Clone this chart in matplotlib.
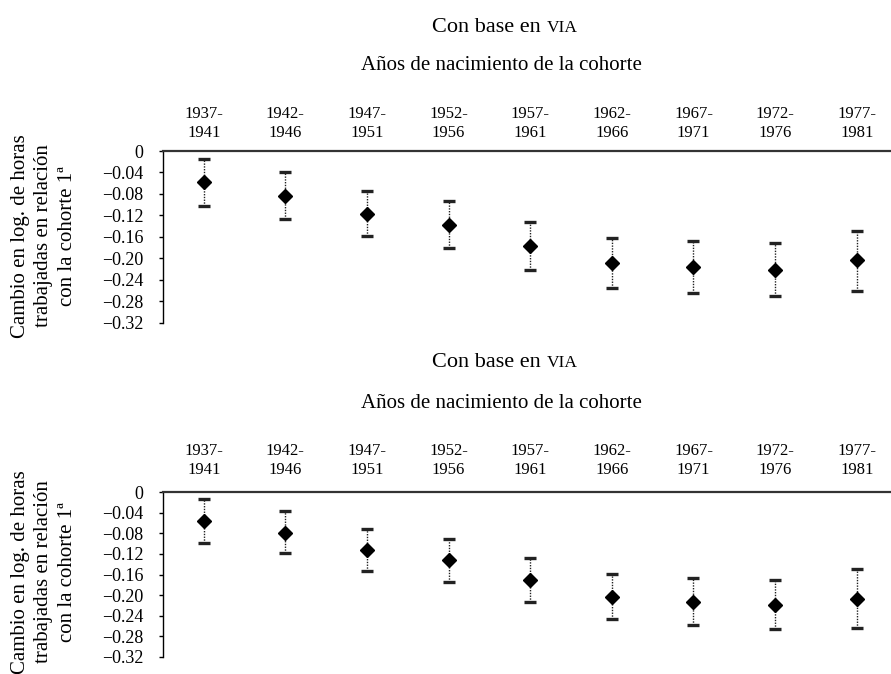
import matplotlib.pyplot as plt
import numpy as np

plt.rcParams['font.family'] = ['Liberation Serif', 'DejaVu Serif']

cohortes = ["1937-\n1941", "1942-\n1946", "1947-\n1951", "1952-\n1956", "1957-\n1961",
            "1962-\n1966", "1967-\n1971", "1972-\n1976", "1977-\n1981"]

# panel superior
est_sup = [-0.058, -0.083, -0.117, -0.137, -0.177, -0.209, -0.216, -0.221, -0.204]
alto_sup = [-0.014, -0.040, -0.075, -0.094, -0.132, -0.163, -0.168, -0.171, -0.149]
bajo_sup = [-0.103, -0.126, -0.159, -0.181, -0.222, -0.255, -0.264, -0.270, -0.261]

# panel inferior
est_inf = [-0.056, -0.079, -0.112, -0.132, -0.170, -0.204, -0.213, -0.219, -0.207]
alto_inf = [-0.013, -0.036, -0.072, -0.090, -0.128, -0.159, -0.166, -0.170, -0.150]
bajo_inf = [-0.099, -0.119, -0.153, -0.174, -0.213, -0.246, -0.258, -0.267, -0.265]

yticks = [0, -0.04, -0.08, -0.12, -0.16, -0.20, -0.24, -0.28, -0.32]
ytick_labels = ["0", "\u22120.04", "\u22120.08", "\u22120.12", "\u22120.16",
                "\u22120.20", "\u22120.24", "\u22120.28", "\u22120.32"]

W, H = 891, 674
fig = plt.figure(figsize=(W / 100, H / 100), dpi=100)
renderer = fig.canvas.get_renderer()


def titulos(y_base_via, y_anos):
    # "Con base en" + "VIA" en versalitas (más pequeño), centrado en x = 505 px
    t1 = fig.text(0, 1 - y_base_via / H, "Con base en", ha='left', va='baseline', fontsize=16)
    t2 = fig.text(0, 1 - y_base_via / H, "VIA", ha='left', va='baseline', fontsize=12.5)
    w1 = t1.get_window_extent(renderer).width
    w2 = t2.get_window_extent(renderer).width
    gap = 6
    x0 = 505 - (w1 + gap + w2) / 2
    t1.set_x(x0 / W)
    t2.set_x((x0 + w1 + gap) / W)
    fig.text(501.5 / W, 1 - y_anos / H, "Años de nacimiento de la cohorte",
             ha='center', va='center', fontsize=15)


def panel(y_top, y_bot, est, alto, bajo, ylab_y, pad_x):
    ax = fig.add_axes([163 / W, 1 - y_bot / H, 1 - 163 / W, (y_bot - y_top) / H])
    x = np.arange(len(cohortes))
    est = np.array(est)
    yerr = [est - np.array(bajo), np.array(alto) - est]
    eb = ax.errorbar(x, est, yerr=yerr, fmt='D', color='black', markersize=7.5,
                     ecolor='#222222', elinewidth=1.0, capsize=4, capthick=2.4)
    eb[2][0].set_linestyle((0, (1, 1)))

    ax.set_xlim(-0.5, 8.42)
    ax.set_ylim(-0.32, 0)
    ax.set_yticks(yticks)
    ax.set_yticklabels(ytick_labels, fontsize=13)
    ax.xaxis.tick_top()
    ax.set_xticks(x)
    ax.set_xticklabels(cohortes, fontsize=12, linespacing=1.3)
    ax.tick_params(axis='x', length=0, pad=pad_x)
    ax.tick_params(axis='y', length=3, width=1, direction='out', pad=11)

    for s in ['right', 'bottom']:
        ax.spines[s].set_visible(False)
    ax.spines['top'].set_linewidth(1.6)
    ax.spines['top'].set_color('#333333')
    ax.spines['left'].set_linewidth(1.0)

    fig.text(44 / W, 1 - ylab_y / H,
             "Cambio en log. de horas\ntrabajadas en relación\ncon la cohorte 1ª",
             rotation=90, ha='center', va='center', multialignment='center',
             fontsize=15, linespacing=1.35)
    return ax


panel(151, 322.7, est_sup, alto_sup, bajo_sup, 236, 7)
panel(492.3, 656.7, est_inf, alto_inf, bajo_inf, 572, 10)

titulos(32, 65)
titulos(367, 403)

fig.savefig("out.png", dpi=100)
